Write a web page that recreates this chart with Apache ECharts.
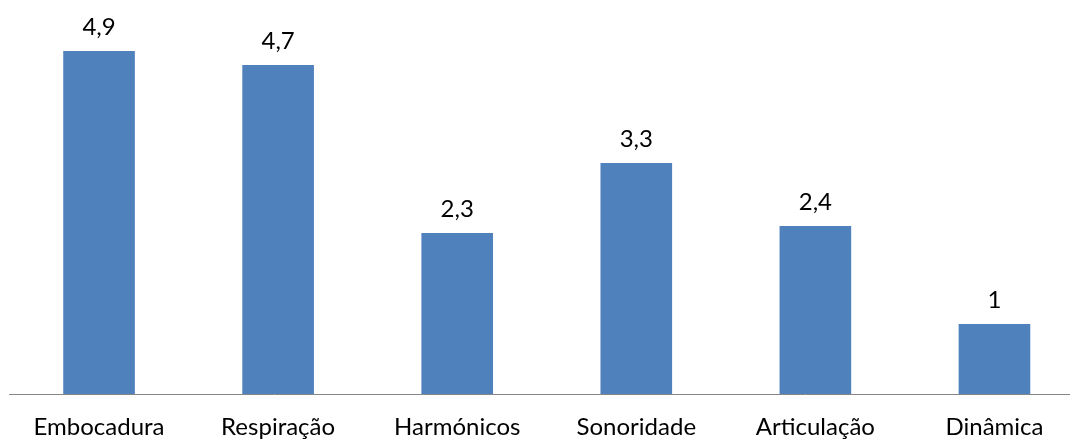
<!DOCTYPE html>
<html>
<head>
<meta charset="utf-8">
<script src="https://cdn.jsdelivr.net/npm/echarts@6/dist/echarts.min.js"></script>
<style>
  html, body { margin: 0; padding: 0; background: #ffffff; }
  #chart { width: 1070px; height: 441px; }
</style>
</head>
<body>
<div id="chart"></div>
<script>
// Categories and mean scores shown by the bars
const categories = ['Embocadura', 'Respiração', 'Harmónicos', 'Sonoridade', 'Articulação', 'Dinâmica'];
const scores = [4.9, 4.7, 2.3, 3.3, 2.4, 1];

const FONT = 'Lato';

const chart = echarts.init(document.getElementById('chart'), null, { renderer: 'canvas' });

chart.setOption({
  animation: false,
  backgroundColor: '#ffffff',
  // plot area runs slightly past the right edge of the canvas
  grid: {
    left: 9.5, width: 1074.5, top: 44, height: 350,
    containLabel: false,
    outerBoundsMode: 'none'
  },
  xAxis: {
    type: 'category',
    data: categories,
    axisLine: { show: true, lineStyle: { color: '#868686', width: 1 } },
    axisTick: { show: false },
    axisLabel: {
      color: '#000000',
      fontFamily: FONT,
      fontSize: 24,
      margin: 21
    },
    splitLine: { show: false }
  },
  yAxis: {
    type: 'value',
    min: 0,
    max: 5,
    show: false,
    splitLine: { show: false }
  },
  series: [{
    type: 'bar',
    data: scores,
    barCategoryGap: '60%',
    itemStyle: { color: '#4F81BD' },
    label: {
      show: true,
      position: 'top',
      distance: 12,
      color: '#000000',
      fontFamily: FONT,
      fontSize: 24,
      formatter: p => String(p.value).replace('.', ',')
    }
  }]
});
</script>
</body>
</html>
